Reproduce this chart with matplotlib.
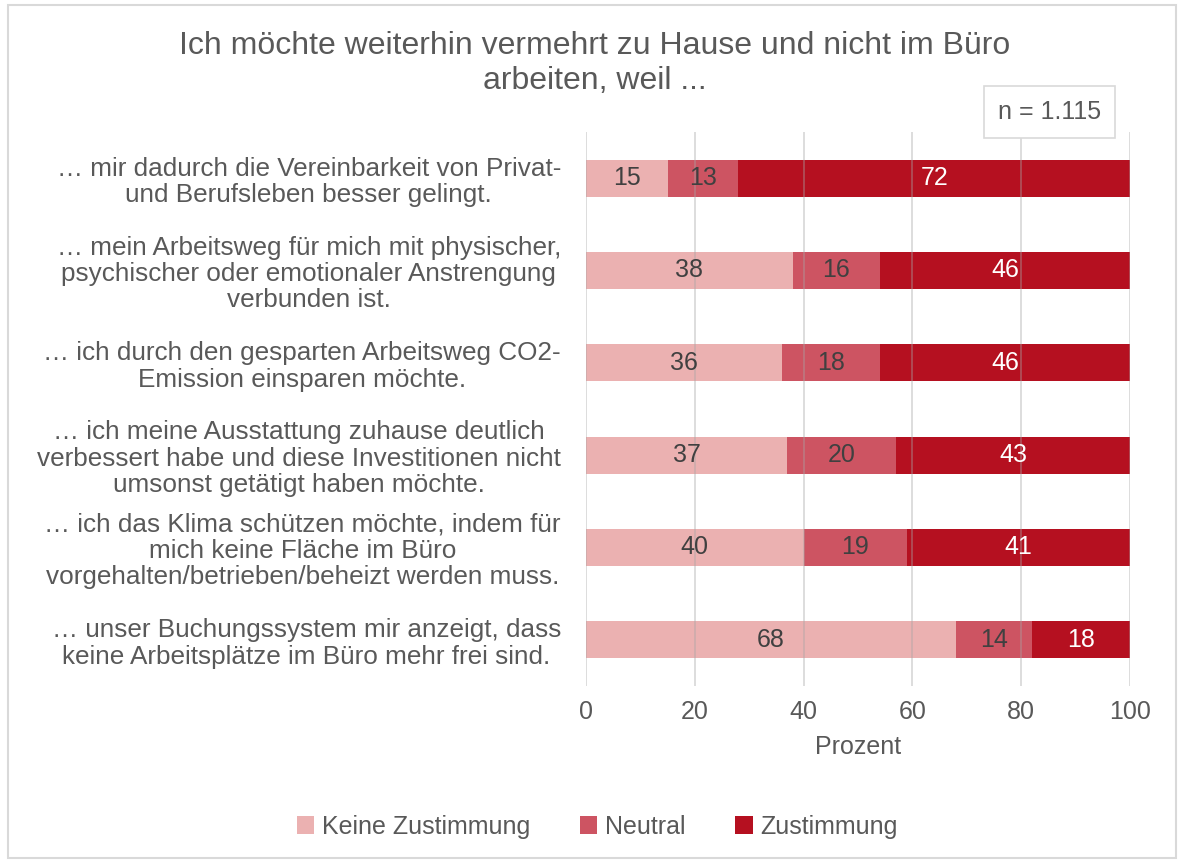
import matplotlib.pyplot as plt
import numpy as np

plt.rcParams['font.family'] = ['Liberation Sans', 'DejaVu Sans']

categories = [
    "… mir dadurch die Vereinbarkeit von Privat-\nund Berufsleben besser gelingt.",
    "… mein Arbeitsweg für mich mit physischer,\npsychischer oder emotionaler Anstrengung\nverbunden ist.",
    "… ich durch den gesparten Arbeitsweg CO2-\nEmission einsparen möchte.",
    "… ich meine Ausstattung zuhause deutlich\nverbessert habe und diese Investitionen nicht\numsonst getätigt haben möchte.",
    "… ich das Klima schützen möchte, indem für\nmich keine Fläche im Büro\nvorgehalten/betrieben/beheizt werden muss.",
    "… unser Buchungssystem mir anzeigt, dass\nkeine Arbeitsplätze im Büro mehr frei sind.",
]
keine = [15, 38, 36, 37, 40, 68]
neutral = [13, 16, 18, 20, 19, 14]
zustimmung = [72, 46, 46, 43, 41, 18]
series_names = ["Keine Zustimmung", "Neutral", "Zustimmung"]
colors = ["#EBB1B1", "#CD5462", "#B51020"]
label_colors = ["#404040", "#404040", "white"]
gray = "#595959"
fs = 18

fig = plt.figure(figsize=(11.8, 8.61), dpi=100)
ax = fig.add_axes([0.4966, 0.2033, 0.461, 0.6434])

y = np.arange(len(categories))
left = np.zeros(len(categories))
for vals, name, c, lc in zip([keine, neutral, zustimmung], series_names, colors, label_colors):
    bars = ax.barh(y, vals, left=left, height=0.4, color=c, label=name, zorder=2)
    ax.bar_label(bars, labels=[str(v) for v in vals], label_type='center',
                 color=lc, fontsize=fs)
    left += np.array(vals)

ax.set_ylim(len(categories) - 0.5, -0.5)
ax.set_xlim(0, 100)
ax.set_xticks(range(0, 101, 20))
ax.set_yticks(y)
ax.set_yticklabels(categories, multialignment='center', fontsize=18.8, color=gray,
                   linespacing=1.12)
ax.tick_params(axis='y', length=0, pad=18)
ax.tick_params(axis='x', length=0, labelsize=fs, labelcolor=gray, pad=10)
ax.grid(axis='x', color='#A6A6A6', alpha=0.45, linewidth=1.2, zorder=3)
ax.set_axisbelow(False)
for s in ax.spines.values():
    s.set_visible(False)
ax.set_xlabel("Prozent", fontsize=fs, color=gray, labelpad=8)

fig.text(0.504, 0.926, "Ich möchte weiterhin vermehrt zu Hause und nicht im Büro\narbeiten, weil ...",
         ha='center', va='center', fontsize=23, color=gray, linespacing=1.2)

fig.text(0.8895, 0.870, "n = 1.115", ha='center', va='center', fontsize=fs, color=gray,
         bbox=dict(boxstyle='square,pad=0.55', facecolor='white', edgecolor='#D9D9D9', linewidth=1.2))

leg = fig.legend(loc='center', bbox_to_anchor=(0.506, 0.040), ncol=3, frameon=False,
                 fontsize=fs, handlelength=0.7, handleheight=0.7, handletextpad=0.3,
                 columnspacing=2.0)
for t in leg.get_texts():
    t.set_color(gray)

fig.patches.append(plt.Rectangle((0.007, 0.004), 0.990, 0.990, transform=fig.transFigure,
                                 fill=False, edgecolor='#D9D9D9', linewidth=1.5))

fig.savefig("out.png", dpi=100)
